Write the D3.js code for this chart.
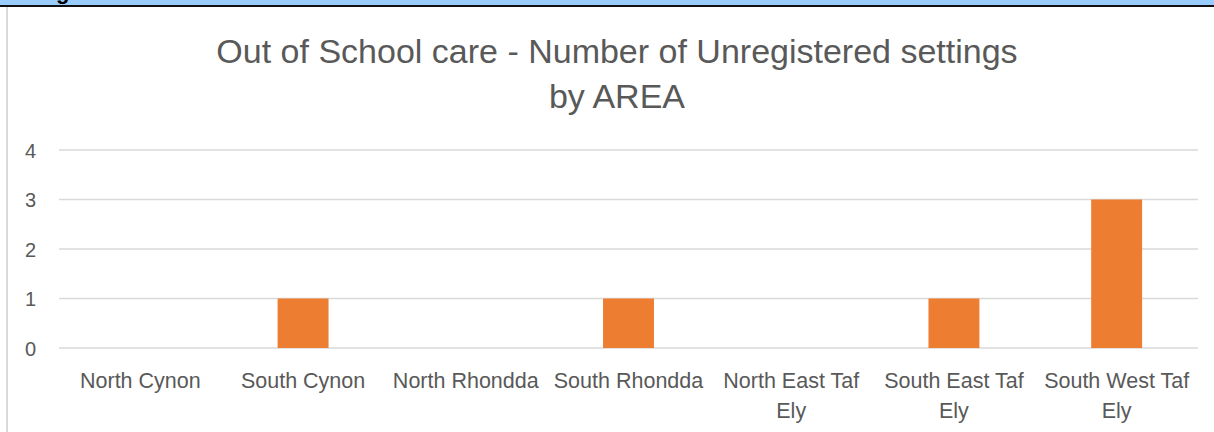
<!DOCTYPE html>
<html><head><meta charset="utf-8">
<script src="https://cdn.jsdelivr.net/npm/d3@7"></script>
<style>html,body{margin:0;padding:0;background:#fff;overflow:hidden}</style>
</head><body>
<svg id="c" width="1214" height="432"></svg>
<script>
const categories = [["North Cynon"],["South Cynon"],["North Rhondda"],["South Rhondda"],["North East Taf","Ely"],["South East Taf","Ely"],["South West Taf","Ely"]];
const values = [0,1,0,1,0,1,3];
const yTicks = [0,1,2,3,4];
const titleLines = ["Out of School care - Number of Unregistered settings","by AREA"];

const svg = d3.select("#c");
const W = 1214, H = 432;
const font = "'Liberation Sans', Arial, sans-serif";
const grey = "#595959";

// header band
svg.append("rect").attr("x",0).attr("y",0).attr("width",W).attr("height",5).attr("fill","#99ccff");
svg.append("rect").attr("x",0).attr("y",5).attr("width",W).attr("height",2).attr("fill","#111");
svg.append("text").attr("x",56).attr("y",-1).attr("font-family",font).attr("font-weight","bold").attr("font-size",22).attr("fill","#000").text("g");
// left border of chart area
svg.append("rect").attr("x",6).attr("y",7).attr("width",2).attr("height",H-7).attr("fill","#d9d9d9");

const x0 = 59, x1 = 1198, yTop = 150, yBot = 348;
const x = d3.scaleBand().domain(d3.range(categories.length)).range([x0,x1]).paddingInner(0.687).paddingOuter(0.3435);
const xb = d3.scaleBand().domain(d3.range(categories.length)).range([x0,x1]);
const y = d3.scaleLinear().domain([0,4]).range([yBot,yTop]);

// gridlines
svg.append("g").selectAll("line").data(yTicks).join("line")
  .attr("x1",x0).attr("x2",x1).attr("y1",d=>y(d)).attr("y2",d=>y(d))
  .attr("stroke","#d9d9d9").attr("stroke-width",1.5);

// y tick labels
svg.append("g").selectAll("text").data(yTicks).join("text")
  .attr("x",36).attr("y",d=>y(d)+7.5).attr("text-anchor","end")
  .attr("font-family",font).attr("font-size",20).attr("fill",grey).text(d=>d);

// bars
svg.append("g").selectAll("rect").data(values).join("rect")
  .attr("x",(d,i)=>x(i)).attr("width",x.bandwidth())
  .attr("y",d=>y(d)).attr("height",d=>yBot-y(d)).attr("fill","#ed7d31");

// x labels
const xl = svg.append("g").selectAll("text").data(categories).join("text")
  .attr("text-anchor","middle").attr("font-family",font).attr("font-size",21.5).attr("fill",grey);
xl.each(function(lines,i){
  const t = d3.select(this);
  lines.forEach((l,j)=>{
    t.append("tspan").attr("x",xb(i)+xb.bandwidth()/2).attr("y",388+j*30).text(l);
  });
});

// title
svg.append("g").selectAll("text").data(titleLines).join("text")
  .attr("x",617).attr("y",(d,i)=>63+i*45).attr("text-anchor","middle")
  .attr("font-family",font).attr("font-size",34).attr("fill",grey).text(d=>d);
</script>
</body></html>
